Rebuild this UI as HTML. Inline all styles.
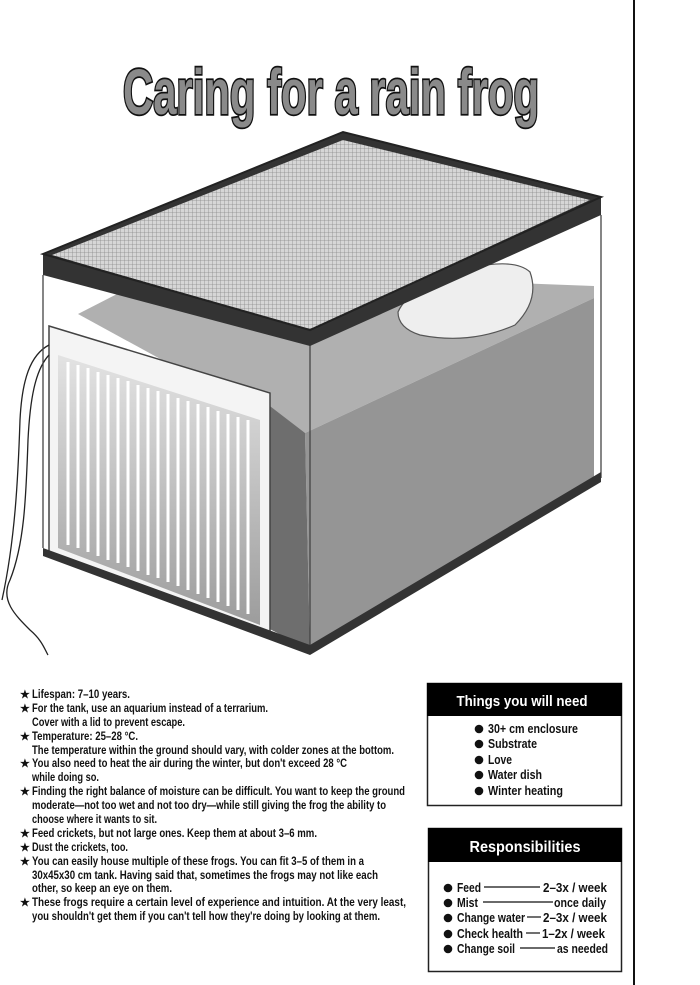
<!DOCTYPE html>
<html><head><meta charset="utf-8"><style>
html,body{margin:0;padding:0;background:#fff;}
svg{display:block;}
text{font-family:"Liberation Sans",sans-serif;}
</style></head><body>
<svg width="700" height="985" viewBox="0 0 700 985" xmlns="http://www.w3.org/2000/svg">
<defs>
<pattern id="mesh" width="4" height="4" patternUnits="userSpaceOnUse">
<rect width="4" height="4" fill="#d6d6d6"/><path d="M0 0H4M0 0V4" stroke="#8a8a8a" stroke-width="0.8"/>
</pattern>
<linearGradient id="hg" x1="0" y1="0" x2="0" y2="1">
<stop offset="0" stop-color="#e0e0e0"/><stop offset="1" stop-color="#8d8d8d"/>
</linearGradient>
</defs>
<rect width="700" height="985" fill="#fff"/>
<line x1="634" y1="0" x2="634" y2="985" stroke="#111" stroke-width="2"/>

<!-- Title -->
<text x="331" y="114" text-anchor="middle" font-size="64" font-weight="bold" textLength="416" lengthAdjust="spacingAndGlyphs" fill="#8a8a8a" stroke="#111" stroke-width="3.5" paint-order="stroke">Caring for a rain frog</text>

<!-- soil top surface -->
<polygon points="78,314 164,270 594,286 594,298 305,433 272,420" fill="#b0b0b0"/>
<!-- soil right face -->
<polygon points="305,433 594,298 594,478 310,650" fill="#959595"/>
<!-- soil front dark strip -->
<polygon points="262,400 305,433 310,650 262,625" fill="#6e6e6e"/>
<!-- water dish -->
<path d="M398,312 Q410,285 470,268 Q515,258 530,272 Q540,300 515,325 Q470,345 420,335 Q398,328 398,312Z" fill="#eee" stroke="#555" stroke-width="1.2"/>
<!-- heater -->
<polygon points="49,326 270,393 270,639 49,556" fill="#f4f4f4" stroke="#444" stroke-width="1.5"/>
<polygon points="58,355 260,420 260,625 58,548" fill="url(#hg)" opacity="0.85"/>
<g stroke="#fff" stroke-width="3">
<line x1="68" y1="362" x2="68" y2="545"/><line x1="78" y1="365" x2="78" y2="548"/>
<line x1="88" y1="368" x2="88" y2="552"/><line x1="98" y1="372" x2="98" y2="556"/>
<line x1="108" y1="375" x2="108" y2="560"/><line x1="118" y1="378" x2="118" y2="563"/>
<line x1="128" y1="381" x2="128" y2="567"/><line x1="138" y1="385" x2="138" y2="571"/>
<line x1="148" y1="388" x2="148" y2="575"/><line x1="158" y1="391" x2="158" y2="578"/>
<line x1="168" y1="394" x2="168" y2="582"/><line x1="178" y1="398" x2="178" y2="586"/>
<line x1="188" y1="401" x2="188" y2="590"/><line x1="198" y1="404" x2="198" y2="594"/>
<line x1="208" y1="407" x2="208" y2="598"/><line x1="218" y1="411" x2="218" y2="602"/>
<line x1="228" y1="414" x2="228" y2="606"/><line x1="238" y1="417" x2="238" y2="610"/>
<line x1="248" y1="420" x2="248" y2="614"/>
</g>
<!-- cord -->
<path d="M49,345 C30,355 22,380 20,420 C18,480 15,540 2,600 M49,355 C35,370 30,400 28,440 C26,500 24,545 10,580 C0,600 15,615 30,630 C42,640 45,650 48,655" fill="none" stroke="#222" stroke-width="1.3"/>
<!-- glass edges -->
<g stroke="#444" stroke-width="1.3" fill="none">
<line x1="43" y1="275" x2="43" y2="548"/>
<line x1="310" y1="345" x2="310" y2="653"/>
<line x1="601" y1="215" x2="601" y2="478"/>
</g>
<!-- bottom frame -->
<polygon points="43,548 310,645 601,472 601,482 310,655 43,556" fill="#333"/>
<!-- lid -->
<polygon points="43,254 343,132 601,197 601,215 310,346 43,275" fill="#333"/>
<polygon points="52,255 343,140 590,200 310,330" fill="url(#mesh)"/>
<polygon points="43,254 343,132 601,197 310,330" fill="none" stroke="#222" stroke-width="2"/>

<!-- left text -->
<g font-size="12" font-weight="bold" fill="#111">
<g font-size="11"><text x="20" y="698">★</text><text x="20" y="712">★</text><text x="20" y="740">★</text><text x="20" y="767">★</text><text x="20" y="795">★</text><text x="20" y="837">★</text><text x="20" y="851">★</text><text x="20" y="865">★</text><text x="20" y="906">★</text></g>
<text x="32" y="698" textLength="98" lengthAdjust="spacingAndGlyphs">Lifespan: 7–10 years.</text>
<text x="32" y="712" textLength="236" lengthAdjust="spacingAndGlyphs">For the tank, use an aquarium instead of a terrarium.</text>
<text x="32" y="726" textLength="153" lengthAdjust="spacingAndGlyphs">Cover with a lid to prevent escape.</text>
<text x="32" y="740" textLength="106" lengthAdjust="spacingAndGlyphs">Temperature: 25–28 °C.</text>
<text x="32" y="754" textLength="362" lengthAdjust="spacingAndGlyphs">The temperature within the ground should vary, with colder zones at the bottom.</text>
<text x="32" y="767" textLength="315" lengthAdjust="spacingAndGlyphs">You also need to heat the air during the winter, but don't exceed 28 °C</text>
<text x="32" y="781" textLength="67" lengthAdjust="spacingAndGlyphs">while doing so.</text>
<text x="32" y="795" textLength="373" lengthAdjust="spacingAndGlyphs">Finding the right balance of moisture can be difficult. You want to keep the ground</text>
<text x="32" y="809" textLength="354" lengthAdjust="spacingAndGlyphs">moderate—not too wet and not too dry—while still giving the frog the ability to</text>
<text x="32" y="823" textLength="125" lengthAdjust="spacingAndGlyphs">choose where it wants to sit.</text>
<text x="32" y="837" textLength="285" lengthAdjust="spacingAndGlyphs">Feed crickets, but not large ones. Keep them at about 3–6 mm.</text>
<text x="32" y="851" textLength="96" lengthAdjust="spacingAndGlyphs">Dust the crickets, too.</text>
<text x="32" y="865" textLength="332" lengthAdjust="spacingAndGlyphs">You can easily house multiple of these frogs. You can fit 3–5 of them in a</text>
<text x="32" y="879" textLength="346" lengthAdjust="spacingAndGlyphs">30x45x30 cm tank. Having said that, sometimes the frogs may not like each</text>
<text x="32" y="892" textLength="140" lengthAdjust="spacingAndGlyphs">other, so keep an eye on them.</text>
<text x="32" y="906" textLength="374" lengthAdjust="spacingAndGlyphs">These frogs require a certain level of experience and intuition. At the very least,</text>
<text x="32" y="920" textLength="348" lengthAdjust="spacingAndGlyphs">you shouldn't get them if you can't tell how they're doing by looking at them.</text>
</g>

<!-- Things box -->
<rect x="427.5" y="683.5" width="194" height="122" fill="#fff" stroke="#222" stroke-width="1.5"/>
<rect x="427" y="683" width="195" height="33" fill="#000"/>
<text x="522" y="706" text-anchor="middle" font-size="15" font-weight="bold" fill="#fff" textLength="131" lengthAdjust="spacingAndGlyphs">Things you will need</text>
<g font-size="12.5" font-weight="bold" fill="#111">
<circle cx="479" cy="729" r="4.3"/><circle cx="479" cy="744" r="4.3"/><circle cx="479" cy="760" r="4.3"/><circle cx="479" cy="775" r="4.3"/><circle cx="479" cy="791" r="4.3"/>
<text x="488" y="733" textLength="90" lengthAdjust="spacingAndGlyphs">30+ cm enclosure</text>
<text x="488" y="748" textLength="49" lengthAdjust="spacingAndGlyphs">Substrate</text>
<text x="488" y="764" textLength="24" lengthAdjust="spacingAndGlyphs">Love</text>
<text x="488" y="779" textLength="54" lengthAdjust="spacingAndGlyphs">Water dish</text>
<text x="488" y="795" textLength="75" lengthAdjust="spacingAndGlyphs">Winter heating</text>
</g>

<!-- Responsibilities box -->
<rect x="428.5" y="828.5" width="193" height="143" fill="#fff" stroke="#222" stroke-width="1.5"/>
<rect x="428" y="828" width="194" height="34" fill="#000"/>
<text x="525" y="852" text-anchor="middle" font-size="16" font-weight="bold" fill="#fff" textLength="111" lengthAdjust="spacingAndGlyphs">Responsibilities</text>
<g font-size="12.5" font-weight="bold" fill="#111">
<circle cx="448" cy="888" r="4.3"/><circle cx="448" cy="903" r="4.3"/><circle cx="448" cy="918" r="4.3"/><circle cx="448" cy="934" r="4.3"/><circle cx="448" cy="949" r="4.3"/>
<text x="457" y="892" textLength="24" lengthAdjust="spacingAndGlyphs">Feed</text>
<text x="543" y="892" textLength="64" lengthAdjust="spacingAndGlyphs">2–3x / week</text>
<text x="457" y="907" textLength="21" lengthAdjust="spacingAndGlyphs">Mist</text>
<text x="554" y="907" textLength="52" lengthAdjust="spacingAndGlyphs">once daily</text>
<text x="457" y="922" textLength="68" lengthAdjust="spacingAndGlyphs">Change water</text>
<text x="543" y="922" textLength="64" lengthAdjust="spacingAndGlyphs">2–3x / week</text>
<text x="457" y="938" textLength="66" lengthAdjust="spacingAndGlyphs">Check health</text>
<text x="542" y="938" textLength="63" lengthAdjust="spacingAndGlyphs">1–2x / week</text>
<text x="457" y="953" textLength="58" lengthAdjust="spacingAndGlyphs">Change soil</text>
<text x="557" y="953" textLength="51" lengthAdjust="spacingAndGlyphs">as needed</text>
</g>
<g stroke="#111" stroke-width="1.2">
<line x1="484" y1="887" x2="540" y2="887"/>
<line x1="483" y1="902" x2="553" y2="902"/>
<line x1="527" y1="917" x2="541" y2="917"/>
<line x1="526" y1="933" x2="540" y2="933"/>
<line x1="520" y1="948" x2="555" y2="948"/>
</g>
</svg>
</body></html>
